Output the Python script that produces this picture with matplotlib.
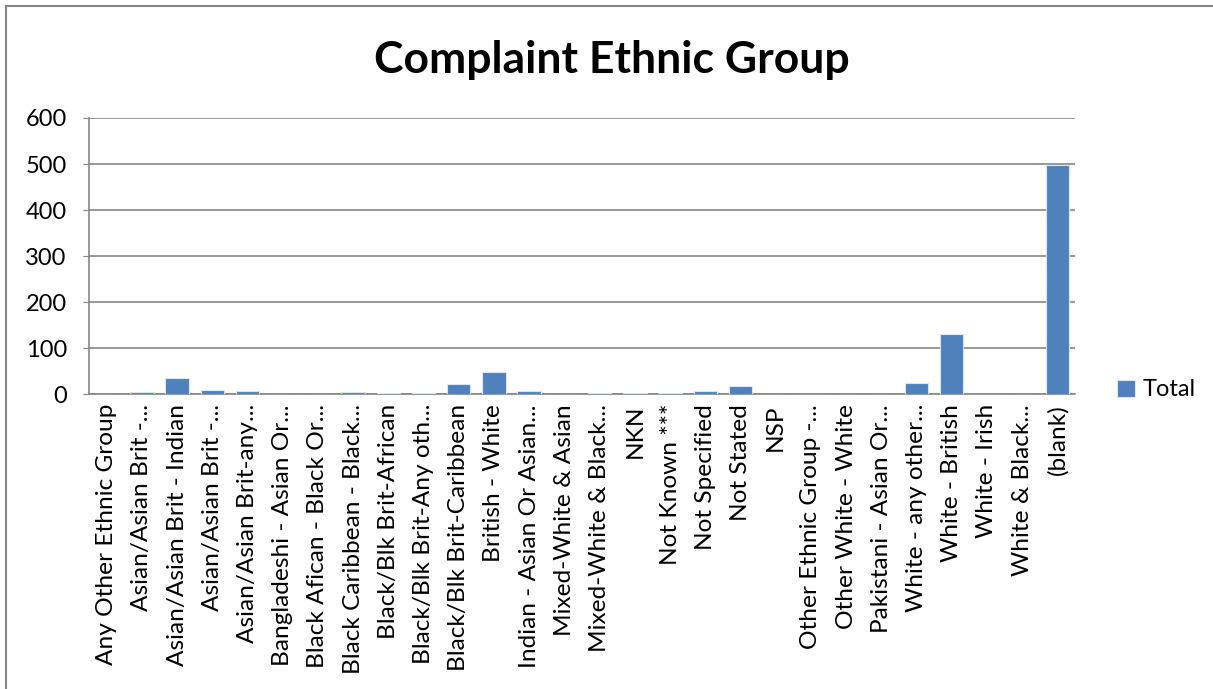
import matplotlib.pyplot as plt
from matplotlib.lines import Line2D

categories = [
    'Any Other Ethnic Group', 'Asian/Asian Brit -...', 'Asian/Asian Brit - Indian',
    'Asian/Asian Brit -...', 'Asian/Asian Brit-any...', 'Bangladeshi - Asian Or...',
    'Black Afican - Black Or...', 'Black Caribbean - Black...', 'Black/Blk Brit-African',
    'Black/Blk Brit-Any oth...', 'Black/Blk Brit-Caribbean', 'British - White',
    'Indian - Asian Or Asian...', 'Mixed-White & Asian', 'Mixed-White & Black...',
    'NKN', 'Not Known ***', 'Not Specified', 'Not Stated', 'NSP',
    'Other Ethnic Group -...', 'Other White - White', 'Pakistani - Asian Or...',
    'White - any other...', 'White - British', 'White - Irish',
    'White & Black...', '(blank)',
]
totals = [0, 5, 36, 10, 7, 0, 0, 4, 2, 3, 22, 48, 7, 0, 2, 2, 3, 7, 19,
          0, 0, 0, 0, 24, 132, 0, 0, 497]
yticks = [0, 100, 200, 300, 400, 500, 600]

plt.rcParams['font.family'] = ['Lato', 'DejaVu Sans']

fig = plt.figure(figsize=(12.13, 6.89), dpi=100)
ax = fig.add_axes([89 / 1213, 1 - 394.3 / 689, (1075 - 89) / 1213, (394.3 - 118) / 689])

x = list(range(len(categories)))
ax.bar(x, totals, width=0.665, color='#4F81BD', edgecolor='#DCE6F2',
       linewidth=0.8, label='Total', zorder=3)

ax.set_xlim(-0.5, len(categories) - 0.5)
ax.set_ylim(0, 600)
ax.set_yticks(yticks)
ax.set_yticklabels([str(v) for v in yticks], fontsize=17)
ax.set_xticks(x)
ax.set_xticklabels(categories, rotation=90, fontsize=17.6)
ax.tick_params(axis='x', length=0, pad=7)
ax.tick_params(axis='y', length=4, color='#868686', pad=12)
ax.yaxis.grid(True, color='#868686', linewidth=1.2, zorder=0)
for side in ['top', 'right']:
    ax.spines[side].set_visible(False)
ax.spines['left'].set_color('#868686')
ax.spines['bottom'].set_color('#868686')
ax.spines['left'].set_linewidth(1.2)
ax.spines['bottom'].set_linewidth(1.2)

fig.text(612 / 1213, 1 - 60 / 689, 'Complaint Ethnic Group', ha='center', va='center',
         fontsize=32, fontweight='bold')

ax.legend(loc='center left', bbox_to_anchor=(1.0426, 0.0156), frameon=False,
          fontsize=17, handlelength=0.75, handleheight=0.75, handletextpad=0.35,
          borderpad=0, borderaxespad=0)

# chart border (left and top edges)
fig.add_artist(Line2D([6 / 1213, 6 / 1213], [0, 1 - 6 / 689], color='#868686',
                      linewidth=1.5, transform=fig.transFigure))
fig.add_artist(Line2D([6 / 1213, 1], [1 - 6 / 689, 1 - 6 / 689], color='#868686',
                      linewidth=1.5, transform=fig.transFigure))

fig.savefig('out.png', dpi=100)
